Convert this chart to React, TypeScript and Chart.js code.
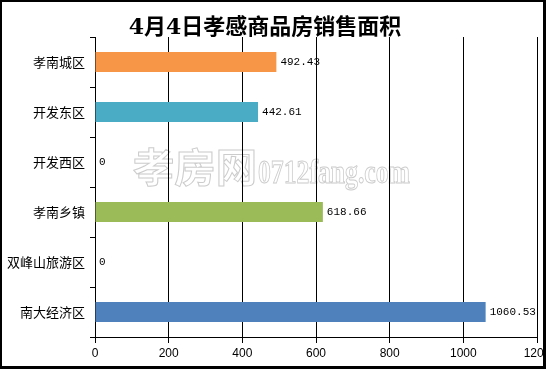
import React, { useEffect, useRef } from 'react';
import { Chart, registerables } from 'chart.js';

Chart.register(...registerables);

const titleText = '4月4日孝感商品房销售面积';
const categories = ['孝南城区', '开发东区', '开发西区', '孝南乡镇', '双峰山旅游区', '南大经济区'];
const areas = [492.43, 442.61, 0, 618.66, 0, 1060.53];
const barColors = ['#F79646', '#4BACC6', '#C0504D', '#9BBB59', '#8064A2', '#4F81BD'];
const xMin = 0;
const xMax = 1200;
const xStep = 200;
const watermarkCn = '孝房网';
const watermarkEn = '0712fang.com';

const W = 546;
const H = 369;

const decor = {
  id: 'decor',
  beforeDraw(chart: any) {
    const ctx = chart.ctx as CanvasRenderingContext2D;
    ctx.save();
    ctx.strokeStyle = '#cccccc';
    ctx.lineWidth = 1;
    ctx.textAlign = 'left';
    ctx.textBaseline = 'alphabetic';
    ctx.font = 'bold 40px "Noto Sans CJK SC"';
    const wCn = ctx.measureText(watermarkCn).width;
    ctx.save();
    ctx.translate(133, 182);
    ctx.scale(124 / wCn, 1);
    ctx.strokeText(watermarkCn, 0, 0);
    ctx.restore();
    ctx.font = 'bold 34px "Liberation Serif"';
    const wEn = ctx.measureText(watermarkEn).width;
    ctx.save();
    ctx.translate(258, 183);
    ctx.scale(152 / wEn, 1);
    ctx.strokeText(watermarkEn, 0, 0);
    ctx.restore();
    ctx.restore();
  },
  afterDatasetsDraw(chart: any) {
    const ctx = chart.ctx as CanvasRenderingContext2D;
    const meta = chart.getDatasetMeta(0);
    ctx.save();
    ctx.fillStyle = '#000';
    ctx.font = '11px "Liberation Mono"';
    ctx.textAlign = 'left';
    ctx.textBaseline = 'middle';
    meta.data.forEach((el: any, i: number) => {
      const v = areas[i];
      ctx.fillText(v === 0 ? '0' : v.toFixed(2), el.x + 4, el.y);
    });
    ctx.restore();
  },
  afterDraw(chart: any) {
    const ctx = chart.ctx as CanvasRenderingContext2D;
    ctx.save();
    ctx.fillStyle = '#000';
    ctx.font = 'bold 22px "DejaVu Serif", "Noto Sans CJK SC"';
    ctx.textAlign = 'center';
    ctx.textBaseline = 'middle';
    ctx.fillText(titleText, 265, 28);
    // frame
    ctx.fillRect(0, 0, W, 2);
    ctx.fillRect(0, 0, 2, H);
    ctx.fillRect(W - 3, 0, 3, H);
    ctx.fillRect(0, H - 3, W, 3);
    ctx.restore();
  },
};

export default function App() {
  const ref = useRef<HTMLCanvasElement | null>(null);
  useEffect(() => {
    if (!ref.current) return;
    const chart = new Chart(ref.current, {
      type: 'bar',
      data: {
        labels: categories,
        datasets: [
          {
            data: areas,
            backgroundColor: barColors,
            borderWidth: 0,
            barPercentage: 0.4,
            categoryPercentage: 1,
          },
        ],
      },
      options: {
        indexAxis: 'y',
        responsive: false,
        animation: false,
        devicePixelRatio: 1,
        layout: { padding: { top: 37, right: 9, left: 0, bottom: 0 } },
        plugins: {
          legend: { display: false },
          title: { display: false },
          tooltip: { enabled: false },
        },
        scales: {
          x: {
            type: 'linear',
            min: xMin,
            max: xMax,
            ticks: {
              stepSize: xStep,
              color: '#000',
              font: { family: '"Liberation Sans"', size: 12 },
              padding: 3,
              maxRotation: 0,
              autoSkip: false,
              callback: (v: any) => String(v),
            },
            grid: { color: '#000', lineWidth: 1, tickLength: 6 },
            border: { color: '#000', width: 1 },
            afterFit(scale: any) {
              scale.height = 32;
              scale.paddingLeft = 0;
              scale.paddingRight = 0;
            },
          },
          y: {
            type: 'category',
            offset: true,
            ticks: {
              color: '#000',
              font: { family: '"Noto Sans CJK SC"', size: 13 },
              padding: 5,
              autoSkip: false,
            },
            grid: {
              offset: true,
              drawOnChartArea: false,
              color: '#000',
              tickLength: 5,
            },
            border: { color: '#000', width: 1 },
            afterFit(scale: any) {
              scale.width = 95;
              scale.paddingTop = 0;
              scale.paddingBottom = 0;
            },
          },
        },
      },
      plugins: [decor],
    });
    return () => chart.destroy();
  }, []);
  return (
    <div style={{ position: 'absolute', left: 0, top: 0, width: W, height: H, background: '#fff' }}>
      <canvas ref={ref} width={W} height={H} style={{ width: W, height: H, display: 'block' }} />
    </div>
  );
}
